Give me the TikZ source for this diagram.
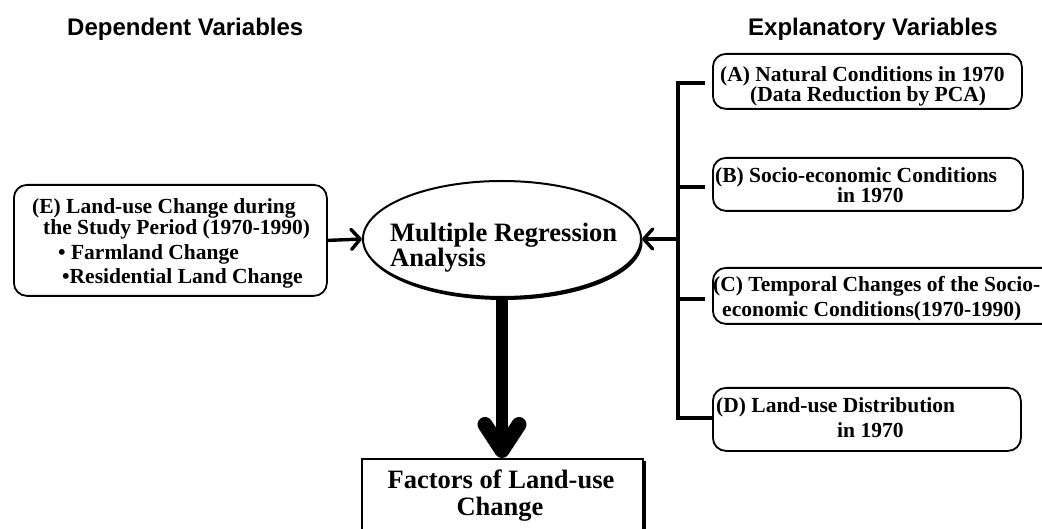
\documentclass[tikz,border=0pt]{standalone}
\usepackage{fontspec}
\newfontfamily\tnr{Liberation Serif}
\newfontfamily\hlv{Liberation Sans}
\usetikzlibrary{arrows.meta,shapes.geometric,shadows}
\begin{document}
\begin{tikzpicture}[x=1pt,y=-1pt,
  sbox/.style={draw, line width=1.8pt, rounded corners=13pt, anchor=north west, inner sep=0pt},
  ttl/.style={font=\hlv\bfseries\fontsize{24}{27}\selectfont, inner sep=0pt, anchor=base west},
  txt/.style={font=\tnr\bfseries\fontsize{21.5}{24}\selectfont, inner sep=0pt, anchor=base west},
  big/.style={font=\tnr\bfseries\fontsize{26.5}{29}\selectfont, inner sep=0pt, anchor=base west},
  bigc/.style={font=\tnr\bfseries\fontsize{26.5}{29}\selectfont, inner sep=0pt, anchor=base},
  arr/.style={line width=3.4pt, -{Straight Barb[length=9pt,width=20pt,round]}},
  tree/.style={line width=4pt, line join=miter},
  twig/.style={line width=4pt, shorten >=7pt}]
\useasboundingbox (0,0) rectangle (1042,529);
\clip (0,0) rectangle (1042,529);

% column headings
\node[ttl] (hdep) at (67,36) {Dependent Variables};
\node[ttl] (hexp) at (748,36) {Explanatory Variables};

% dependent variable box
\node[sbox, minimum width=313pt, minimum height=111pt] (E) at (13,184) {};
\node[txt] (e1) at (32,214) {(E) Land-use Change during};
\node[txt] (e2) at (43,235) {the Study Period (1970-1990)};
\node[txt] (e3) at (58,260) {\textbullet\ Farmland Change};
\node[txt] (e4) at (62,284) {\textbullet Residential Land Change};

% central analysis
\node[ellipse, draw, line width=2pt, fill=white, minimum width=278pt, minimum height=116pt,
  drop shadow={shadow xshift=1.5pt, shadow yshift=-3pt, opacity=1, fill=black}] (M) at (502,239) {};
\node[big] (m1) at (390,242) {Multiple Regression};
\node[big] (m2) at (390,267) {Analysis};

% explanatory variable boxes
\node[sbox, minimum width=309pt, minimum height=55pt] (A) at (712,53) {};
\node[txt] (a1) at (720,82) {(A) Natural Conditions in 1970};
\node[txt] (a2) at (750,102) {(Data Reduction by PCA)};

\node[sbox, minimum width=310pt, minimum height=53pt] (B) at (712,157) {};
\node[txt] (b1) at (715,183) {(B) Socio-economic Conditions};
\node[txt] (b2) at (837,203) {in 1970};

\node[sbox, minimum width=350pt, minimum height=56pt] (C) at (712,267) {};
\node[txt] (c1) at (713,292) {(C) Temporal Changes of the Socio-};
\node[txt] (c2) at (722,317) {economic Conditions(1970-1990)};

\node[sbox, minimum width=308pt, minimum height=63pt] (D) at (712,387) {};
\node[txt] (d1) at (716,412) {(D) Land-use Distribution};
\node[txt] (d2) at (837,437) {in 1970};

% result box
\node[draw, line width=2pt, fill=white, minimum width=281pt, minimum height=120pt, anchor=north,
  inner sep=0pt, drop shadow={shadow xshift=3pt, shadow yshift=-2pt, opacity=1, fill=black}] (F) at (502,458) {};
\node[bigc] (f1) at (501,488) {Factors of Land-use};
\node[bigc] (f2) at (500,515) {Change};

% bracket collecting the explanatory variables
\coordinate (jA) at (678,83);
\coordinate (jB) at (678,187);
\coordinate (jM) at (678,239);
\coordinate (jC) at (678,299);
\coordinate (jD) at (678,418);
\draw[tree, shorten <=7pt] (jA -| A.west) -- (jA) -- (jD) -- (jD -| D.west);
\path[draw, tree] (jD) -- ([xshift=-7pt]jD -| D.west);
\draw[twig] (jB) -- (jB -| B.west);
\draw[twig] (jC) -- (jC -| C.west);

% connectors
\draw[arr] (E.east) -- (M.west);
\draw[arr] (jM) -- (M.east);
\draw[line width=12pt, -{Straight Barb[length=26pt,width=34pt,round,line width=15pt]}] (M.south) -- (F.north);
\end{tikzpicture}
\end{document}
